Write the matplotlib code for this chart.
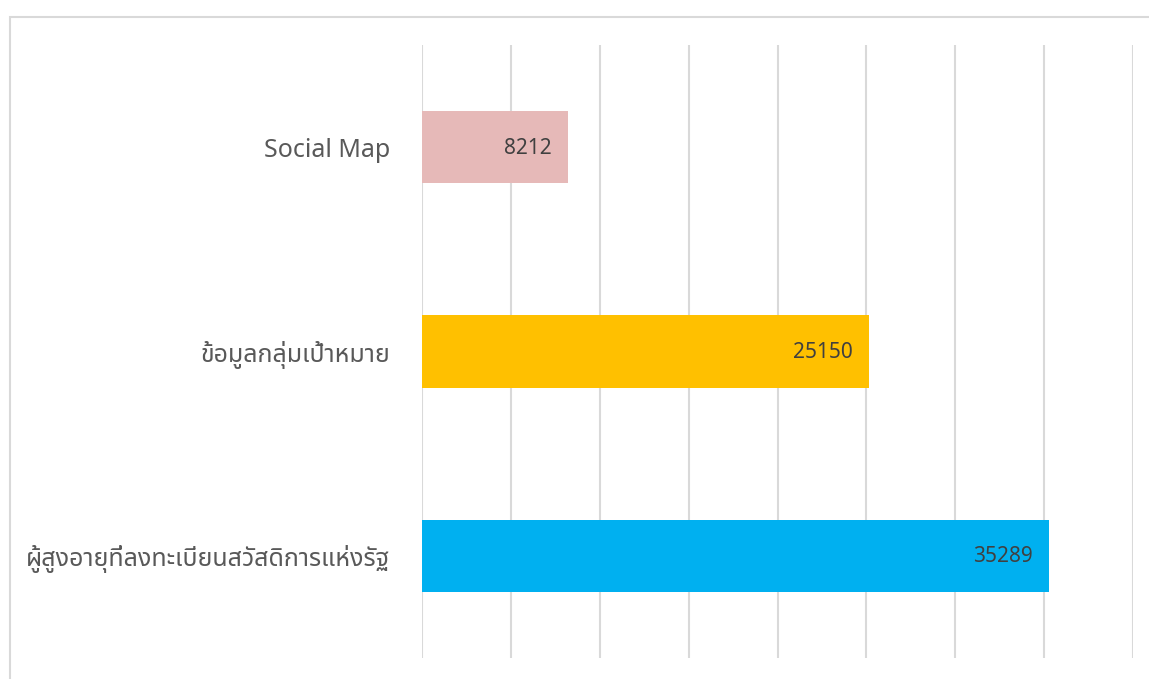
import matplotlib
matplotlib.use("Agg")
import matplotlib.pyplot as plt
from matplotlib.patches import Rectangle

categories = ["Social Map", "ข้อมูลกลุ่มเป้าหมาย", "ผู้สูงอายุที่ลงทะเบียนสวัสดิการแห่งรัฐ"]
values = [8212, 25150, 35289]
colors = ["#E6B9B8", "#FFC000", "#00B0F0"]
x_ticks = [0, 5000, 10000, 15000, 20000, 25000, 30000, 35000, 40000]

W, H = 1149, 679
fig = plt.figure(figsize=(W / 100, H / 100), dpi=100)

# outer chart frame
fig.patches.append(Rectangle((9.5 / W, -0.01), 1.2, (H - 16.5) / H + 0.01,
                             transform=fig.transFigure, fill=False,
                             edgecolor="#D9D9D9", linewidth=1.5))

ax = fig.add_axes([422 / W, 21 / H, (1133 - 422) / W, (658 - 45) / H])
ypos = list(range(len(categories)))
bars = ax.barh(ypos, values, height=0.355, color=colors, zorder=2)
ax.set_xlim(0, 40000)
ax.set_ylim(2.5, -0.5)
ax.set_xticks(x_ticks)
ax.xaxis.grid(True, color="#D9D9D9", linewidth=1.5, zorder=0)
ax.tick_params(axis="x", length=0, labelbottom=False)
ax.tick_params(axis="y", length=0, pad=23)
ax.set_yticks(ypos)
ax.set_yticklabels(categories, fontsize=18, color="#595959",
                   family=["Noto Sans Thai", "Noto Sans"], fontweight="light")
for lbl in ax.get_yticklabels():
    lbl.set_y(lbl.get_position()[1])
for s in ax.spines.values():
    s.set_visible(False)

for b, v in zip(bars, values):
    ax.annotate(str(v), xy=(v, b.get_y() + b.get_height() / 2),
                xytext=(-16, -1), textcoords="offset pixels",
                ha="right", va="center", fontsize=15, color="#404040",
                family=["Noto Sans", "DejaVu Sans"])

fig.savefig("out.png", dpi=100)
